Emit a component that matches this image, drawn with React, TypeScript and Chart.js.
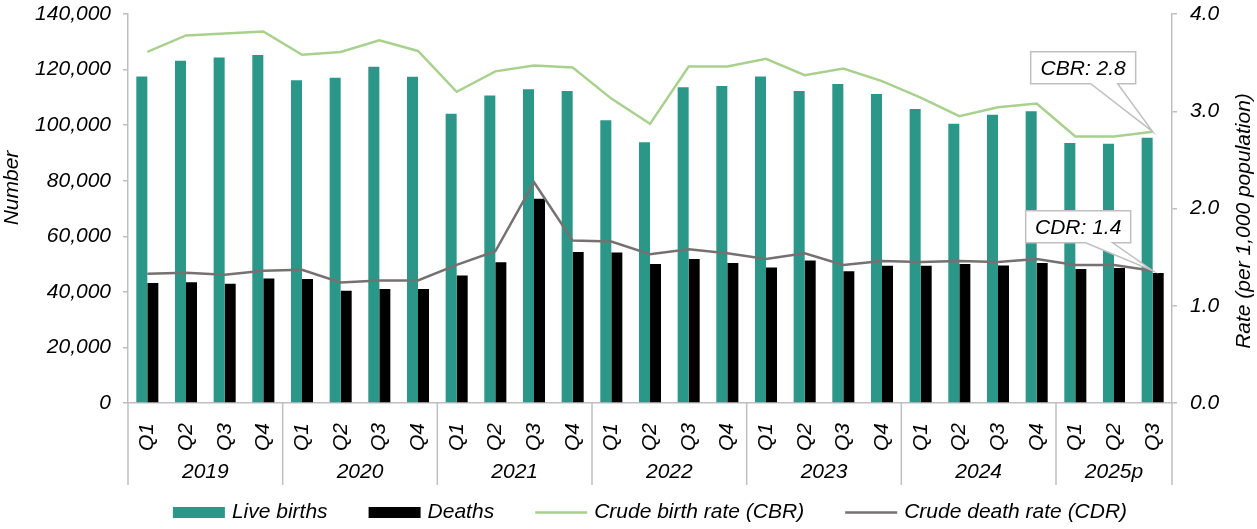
import { useEffect, useRef } from 'react';
import { Chart, registerables } from 'chart.js';

Chart.register(...registerables);

const FONT_FAMILY = '"Liberation Sans", Arial, sans-serif';
const FONT_SIZE = 21;

// Quarterly vital statistics
const years = ['2019', '2020', '2021', '2022', '2023', '2024', '2025p'];
const quartersPerYear = [4, 4, 4, 4, 4, 4, 3];
const quarterNames = ['Q1', 'Q2', 'Q3', 'Q4'];
const quarterLabels = quartersPerYear.flatMap((n) => quarterNames.slice(0, n));

const liveBirths = [
  117500, 123200, 124300, 125200,
  116200, 117100, 121000, 117400,
  104100, 110700, 112900, 112300,
  101800, 93800, 113600, 114100,
  117500, 112300, 114800, 111200,
  105800, 100500, 103700, 105000,
  93600, 93300, 95500,
];
const deaths = [
  43200, 43500, 42900, 44800,
  44600, 40400, 41000, 41000,
  45900, 50700, 73500, 54300,
  54200, 50000, 51800, 50400,
  48800, 51300, 47400, 49400,
  49400, 50000, 49500, 50400,
  48200, 48600, 46800,
];
const crudeBirthRate = [
  3.61, 3.78, 3.8, 3.82,
  3.58, 3.61, 3.73, 3.62,
  3.2, 3.41, 3.47, 3.45,
  3.13, 2.87, 3.46, 3.46,
  3.54, 3.37, 3.44, 3.31,
  3.14, 2.95, 3.04, 3.08,
  2.74, 2.74, 2.79,
];
const crudeDeathRate = [
  1.33, 1.34, 1.32, 1.36,
  1.37, 1.24, 1.26, 1.26,
  1.42, 1.56, 2.27, 1.67,
  1.66, 1.53, 1.58, 1.54,
  1.48, 1.54, 1.42, 1.46,
  1.45, 1.46, 1.45, 1.48,
  1.42, 1.42, 1.36,
];

const seriesNames = ['Live births', 'Deaths', 'Crude birth rate (CBR)', 'Crude death rate (CDR)'];
const calloutPrefixes = ['CBR', 'CDR'];
const leftAxisTitle = 'Number';
const rightAxisTitle = 'Rate (per 1,000 population)';

const TEAL = '#2b9788';
const BLACK = '#000000';
const GREEN = '#a9d18e';
const GREY = '#767171';
const AXIS_GREY = '#bfbfbf';

const font = (size = FONT_SIZE) => `italic ${size}px ${FONT_FAMILY}`;

// Year grouping row, axis titles, legend and value callouts
const decorPlugin = {
  id: 'decor',
  afterDraw(chart: any) {
    const { ctx, chartArea, scales } = chart;
    const xs = scales.x;
    const n = quarterLabels.length;
    const step = (xs.right - xs.left) / n;
    const bottom = chartArea.bottom;

    ctx.save();

    // year separators
    const bounds = [0];
    quartersPerYear.forEach((q) => bounds.push(bounds[bounds.length - 1] + q));
    ctx.strokeStyle = AXIS_GREY;
    ctx.lineWidth = 1.5;
    bounds.forEach((b) => {
      const px = xs.left + b * step;
      ctx.beginPath();
      ctx.moveTo(px, bottom);
      ctx.lineTo(px, bottom + 82);
      ctx.stroke();
    });

    // year labels
    ctx.fillStyle = '#000';
    ctx.font = font();
    ctx.textAlign = 'center';
    ctx.textBaseline = 'middle';
    years.forEach((y, i) => {
      const cx = xs.left + ((bounds[i] + bounds[i + 1]) / 2) * step;
      ctx.fillText(y, cx, bottom + 69.5);
    });

    // axis titles
    const drawVertical = (text: string, x: number, y: number) => {
      ctx.save();
      ctx.translate(x, y);
      ctx.rotate(-Math.PI / 2);
      ctx.fillText(text, 0, 0);
      ctx.restore();
    };
    drawVertical(leftAxisTitle, 12, 188);
    drawVertical(rightAxisTitle, 1244, 221);

    // legend
    const markerW = 52;
    const markerGap = 7;
    const itemGap = 41;
    const datasets = chart.data.datasets;
    const widths = datasets.map((ds: any) => markerW + markerGap + ctx.measureText(ds.label).width);
    const total = widths.reduce((a: number, b: number) => a + b, 0) + itemGap * (datasets.length - 1);
    let lx = (chartArea.left + chartArea.right) / 2 - total / 2;
    const ly = 512.5;
    datasets.forEach((ds: any, i: number) => {
      if (ds.type === 'line') {
        ctx.strokeStyle = ds.borderColor;
        ctx.lineWidth = ds.borderWidth;
        ctx.beginPath();
        ctx.moveTo(lx, ly);
        ctx.lineTo(lx + markerW, ly);
        ctx.stroke();
      } else {
        ctx.fillStyle = ds.backgroundColor;
        ctx.fillRect(lx, ly - 5.5, markerW, 11);
      }
      ctx.fillStyle = '#000';
      ctx.textAlign = 'left';
      ctx.fillText(ds.label, lx + markerW + markerGap, ly);
      lx += widths[i] + itemGap;
    });

    // callouts on the latest rate values
    const callouts = [
      { dataset: 2, dx: -122, dy: -80 },
      { dataset: 3, dx: -127, dy: -60 },
    ];
    callouts.forEach((c, k) => {
      const meta = chart.getDatasetMeta(c.dataset);
      const pts = meta.data;
      if (!pts || !pts.length) return;
      const pt = pts[pts.length - 1];
      const values = datasets[c.dataset].data;
      const value = values[values.length - 1] as number;
      const bw = 105;
      const bh = 32;
      const left = pt.x + c.dx;
      const top = pt.y + c.dy;
      ctx.beginPath();
      ctx.moveTo(left, top);
      ctx.lineTo(left + bw, top);
      ctx.lineTo(left + bw, top + bh);
      ctx.lineTo(left + 87, top + bh);
      ctx.lineTo(pt.x, pt.y);
      ctx.lineTo(left + 60, top + bh);
      ctx.lineTo(left, top + bh);
      ctx.closePath();
      ctx.fillStyle = '#fff';
      ctx.fill();
      ctx.strokeStyle = AXIS_GREY;
      ctx.lineWidth = 1.5;
      ctx.stroke();
      ctx.fillStyle = '#000';
      ctx.textAlign = 'center';
      ctx.textBaseline = 'middle';
      ctx.fillText(`${calloutPrefixes[k]}: ${value.toFixed(1)}`, left + bw / 2, top + bh / 2 + 1);
    });

    ctx.restore();
  },
};

export default function App() {
  const canvasRef = useRef<HTMLCanvasElement | null>(null);

  useEffect(() => {
    const canvas = canvasRef.current;
    if (!canvas) return;
    const tickFont = { family: FONT_FAMILY, size: FONT_SIZE, style: 'italic' as const };

    const chart = new Chart(canvas, {
      type: 'bar',
      data: {
        labels: quarterLabels,
        datasets: [
          {
            type: 'bar',
            label: seriesNames[0],
            data: liveBirths,
            yAxisID: 'y',
            backgroundColor: TEAL,
            borderWidth: 0,
            categoryPercentage: 0.57,
            barPercentage: 1,
            order: 2,
          } as any,
          {
            type: 'bar',
            label: seriesNames[1],
            data: deaths,
            yAxisID: 'y',
            backgroundColor: BLACK,
            borderWidth: 0,
            categoryPercentage: 0.57,
            barPercentage: 1,
            order: 2,
          } as any,
          {
            type: 'line',
            label: seriesNames[2],
            data: crudeBirthRate,
            yAxisID: 'y1',
            borderColor: GREEN,
            backgroundColor: GREEN,
            borderWidth: 2.5,
            pointRadius: 0,
            tension: 0,
            order: 1,
          } as any,
          {
            type: 'line',
            label: seriesNames[3],
            data: crudeDeathRate,
            yAxisID: 'y1',
            borderColor: GREY,
            backgroundColor: GREY,
            borderWidth: 2.5,
            pointRadius: 0,
            tension: 0,
            order: 1,
          } as any,
        ],
      },
      options: {
        animation: false,
        responsive: false,
        devicePixelRatio: 1,
        layout: { padding: { top: 14, left: 0, right: 0, bottom: 0 } },
        plugins: {
          legend: { display: false },
          tooltip: { enabled: false },
        },
        scales: {
          x: {
            offset: true,
            grid: { display: false },
            border: { display: true, color: AXIS_GREY, width: 1.5 },
            ticks: {
              autoSkip: false,
              minRotation: 90,
              maxRotation: 90,
              padding: 12,
              color: '#000',
              font: tickFont,
            },
            afterFit: (s: any) => {
              s.height = 126;
              s.paddingLeft = 0;
              s.paddingRight = 0;
            },
          },
          y: {
            position: 'left',
            min: 0,
            max: 140000,
            ticks: { stepSize: 20000, padding: 12, color: '#000', font: tickFont },
            grid: { drawOnChartArea: false, tickLength: 5, color: AXIS_GREY, lineWidth: 1.5 },
            border: { color: AXIS_GREY, width: 1.5 },
            afterFit: (s: any) => {
              s.width = 128;
              s.paddingTop = 0;
              s.paddingBottom = 0;
            },
          },
          y1: {
            position: 'right',
            min: 0,
            max: 4,
            ticks: {
              stepSize: 1,
              padding: 13,
              color: '#000',
              font: tickFont,
              callback: (v: any) => Number(v).toFixed(1),
            },
            grid: { drawOnChartArea: false, tickLength: 5, color: AXIS_GREY, lineWidth: 1.5 },
            border: { color: AXIS_GREY, width: 1.5 },
            afterFit: (s: any) => {
              s.width = 85;
              s.paddingTop = 0;
              s.paddingBottom = 0;
            },
          },
        },
      },
      plugins: [decorPlugin],
    });

    return () => chart.destroy();
  }, []);

  return (
    <div style={{ position: 'fixed', left: 0, top: 0, width: 1257, height: 529, background: '#fff' }}>
      <canvas ref={canvasRef} width={1257} height={529} style={{ display: 'block' }} />
    </div>
  );
}
